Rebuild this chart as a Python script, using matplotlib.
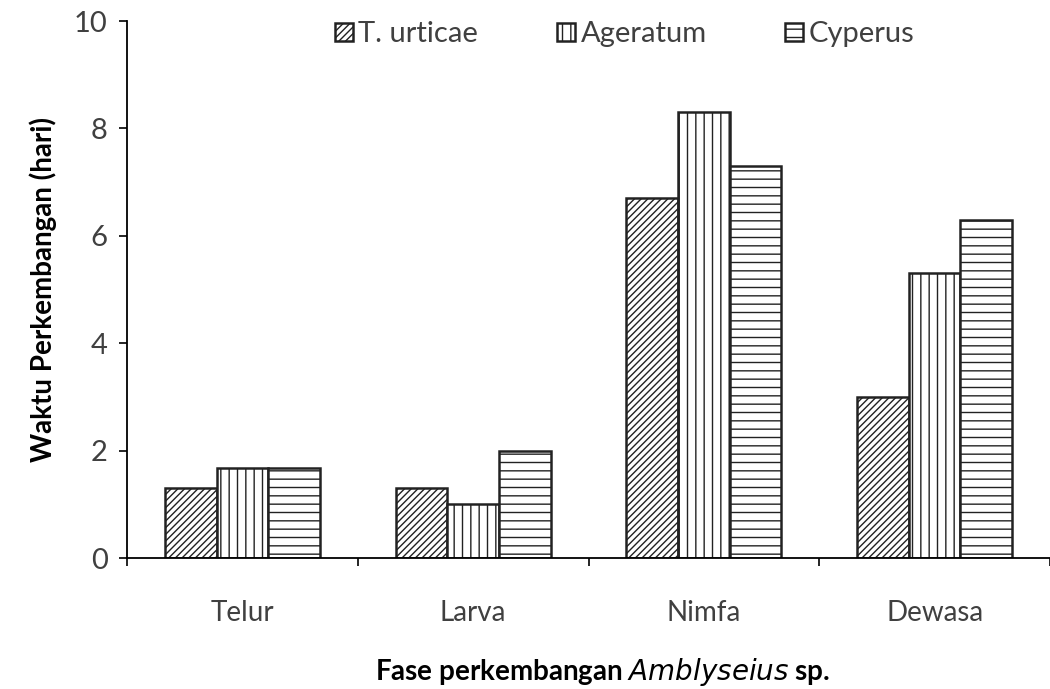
import numpy as np
import matplotlib
matplotlib.use("Agg")
import matplotlib.pyplot as plt

plt.rcParams['font.family'] = ['Lato', 'DejaVu Sans']
plt.rcParams['hatch.linewidth'] = 1.0

categories = ["Telur", "Larva", "Nimfa", "Dewasa"]
series = ["T. urticae", "Ageratum", "Cyperus"]
urticae = [1.3, 1.3, 6.7, 3.0]
ageratum = [1.67, 1.0, 8.3, 5.3]
cyperus = [1.67, 2.0, 7.3, 6.3]

values = [urticae, ageratum, cyperus]
hatches = ["/////", "||", "--"]

fig = plt.figure(figsize=(10.5, 6.89), dpi=100)
ax = fig.add_axes([0.121, 0.19, 0.879, 0.7795])

x = np.arange(len(categories))
width = 0.224
offsets = [-width, 0, width]
for i, name in enumerate(series):
    ax.bar(x + offsets[i], values[i], width=width, color="white",
           edgecolor="#222222", linewidth=1.8, hatch=hatches[i], label=name)

ax.set_xlim(-0.5, 3.5)
ax.set_ylim(0, 10)
ax.set_yticks([0, 2, 4, 6, 8, 10])
ax.set_xticks([-0.5, 0.5, 1.5, 2.5, 3.5])
ax.set_xticklabels([])
ax.set_xticks(x, minor=True)
ax.set_xticklabels(categories, minor=True)
ax.tick_params(axis="x", which="minor", length=0, pad=30, labelsize=20, labelcolor="#404040")
ax.tick_params(axis="x", which="major", length=6, width=1.2, direction="out")
ax.tick_params(axis="y", length=6, width=1.2, direction="out", pad=8, labelsize=21, labelcolor="#404040")

for s in ["top", "right"]:
    ax.spines[s].set_visible(False)
ax.spines["left"].set_linewidth(1.3)
ax.spines["bottom"].set_linewidth(1.3)

ax.set_ylabel("Waktu Perkembangan (hari)", fontsize=20, fontweight="bold", labelpad=12)
ax.set_xlabel("Fase perkembangan $\\it{Amblyseius}$ sp.", fontsize=20, fontweight="bold")
ax.xaxis.set_label_coords(0.515, -0.183)

leg = ax.legend(loc="upper left", bbox_to_anchor=(0.197, 1.048), ncol=3, frameon=False,
                fontsize=21, handlelength=0.6, handleheight=0.6, columnspacing=2.7,
                handletextpad=0.2, labelcolor="#404040")

fig.savefig("out.png", dpi=100)
